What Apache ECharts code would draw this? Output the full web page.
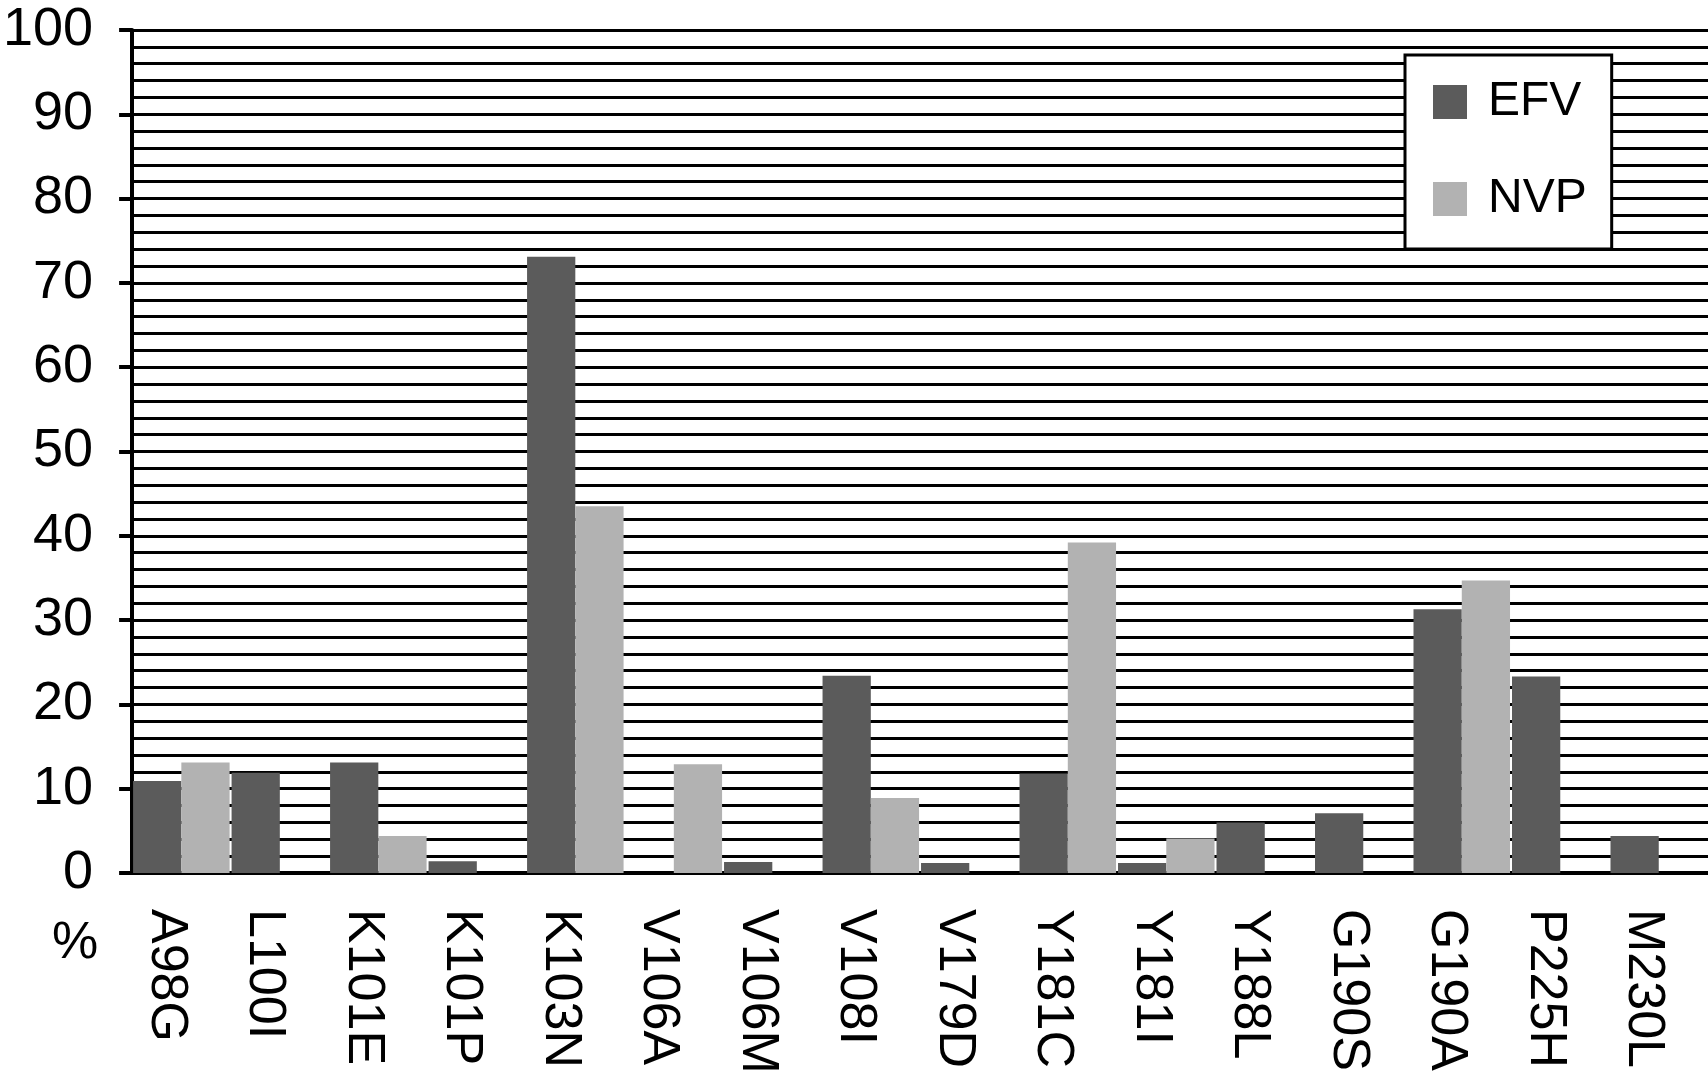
<!DOCTYPE html>
<html>
<head>
<meta charset="utf-8">
<script src="https://cdn.jsdelivr.net/npm/echarts@6/dist/echarts.min.js"></script>
<style>
  html, body { margin: 0; padding: 0; background: #fff; }
  #chart { width: 1708px; height: 1083px; }
</style>
</head>
<body>
<div id="chart"></div>
<script>
// mutations on the x axis
var categories = ['A98G', 'L100I', 'K101E', 'K101P', 'K103N', 'V106A', 'V106M', 'V108I',
  'V179D', 'Y181C', 'Y181I', 'Y188L', 'G190S', 'G190A', 'P225H', 'M230L'];
// % of patients
var efvValues = [10.9, 11.9, 13.1, 1.4, 73.1, 0, 1.3, 23.4, 1.2, 11.8, 1.2, 6.0, 7.1, 31.3, 23.3, 4.4];
var nvpValues = [13.1, 0, 4.4, 0, 43.5, 12.9, 0, 8.9, 0, 39.2, 4.1, 0, 0, 34.7, 0, 0];
var seriesNames = ['EFV', 'NVP'];
var yTicks = [0, 10, 20, 30, 40, 50, 60, 70, 80, 90, 100];

var font = '"Liberation Sans", Arial, sans-serif';
var chart = echarts.init(document.getElementById('chart'));

chart.setOption({
  animation: false,
  backgroundColor: '#fff',
  grid: { left: 130, right: 0, top: 30, bottom: 210 },
  legend: {
    data: seriesNames,
    orient: 'vertical',
    left: 1405,
    top: 55,
    padding: [23, 25, 26, 28],
    itemWidth: 34,
    itemHeight: 34,
    itemGap: 49,
    icon: 'rect',
    backgroundColor: '#fff',
    borderColor: '#000',
    borderWidth: 3,
    borderRadius: 0,
    textStyle: { fontFamily: font, fontSize: 48, color: '#000', lineHeight: 34, padding: [4, 0, 0, 16] }
  },
  xAxis: {
    type: 'category',
    data: categories,
    axisLine: { lineStyle: { color: '#000', width: 4 } },
    axisTick: { length: 20, lineStyle: { color: '#000', width: 4 } },
    axisLabel: {
      rotate: -90, margin: 36, interval: 0,
      verticalAlign: 'top', lineHeight: 30,
      fontFamily: font, fontSize: 52, color: '#000'
    }
  },
  yAxis: {
    type: 'value',
    min: yTicks[0],
    max: yTicks[yTicks.length - 1],
    interval: 10,
    axisLine: { show: true, lineStyle: { color: '#000', width: 4 } },
    axisTick: { show: true, length: 13, lineStyle: { color: '#000', width: 4 } },
    axisLabel: { margin: 39, fontFamily: font, fontSize: 54, color: '#000' },
    splitLine: { show: true, lineStyle: { color: '#000', width: 3 } },
    minorTick: { show: false, splitNumber: 5 },
    minorSplitLine: { show: true, lineStyle: { color: '#000', width: 3 } }
  },
  graphic: [{
    type: 'text',
    left: 52,
    top: 918,
    style: { text: '%', font: '52px ' + font, fill: '#000' }
  }],
  series: [
    {
      name: seriesNames[0], type: 'bar', data: efvValues,
      barGap: '0%', barCategoryGap: '2%',
      itemStyle: { color: '#5b5b5b' }
    },
    {
      name: seriesNames[1], type: 'bar', data: nvpValues,
      barGap: '0%', barCategoryGap: '2%',
      itemStyle: { color: '#b2b2b2' }
    }
  ]
});
</script>
</body>
</html>
